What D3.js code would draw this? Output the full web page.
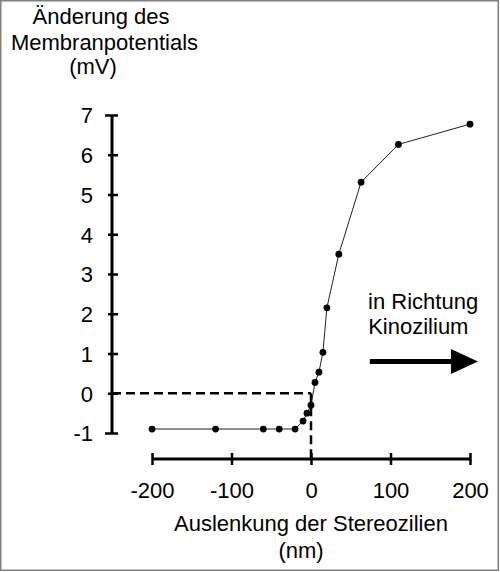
<!DOCTYPE html>
<html>
<head>
<meta charset="utf-8">
<script src="https://cdn.jsdelivr.net/npm/d3@7"></script>
<style>
  html, body { margin: 0; padding: 0; background: #fff; }
  svg { display: block; }
  text { font-family: "Liberation Sans", Arial, sans-serif; font-size: 22px; fill: #000; }
</style>
</head>
<body>
<script>
// ---- data ----
const deflection = [-200, -120, -60, -40, -20, -10, -5, 0, 5, 10, 15, 20, 35, 63, 110, 200];
const potential  = [-0.9, -0.9, -0.9, -0.9, -0.9, -0.7, -0.5, -0.3, 0.27, 0.53, 1.03, 2.15, 3.5, 5.31, 6.26, 6.77];
const xTicks = [-200, -100, 0, 100, 200];
const yTicks = [-1, 0, 1, 2, 3, 4, 5, 6, 7];
const yTitle = ["Änderung des", "Membranpotentials", "(mV)"];
const xTitle = ["Auslenkung der Stereozilien", "(nm)"];
const arrowText = ["in Richtung", "Kinozilium"];

const W = 500, H = 572;
const svg = d3.select("body").append("svg").attr("width", W).attr("height", H);

// frame
svg.append("rect").attr("x", 0.75).attr("y", 0.75).attr("width", 497.5).attr("height", 569.5)
  .attr("fill", "none").attr("stroke", "#808080").attr("stroke-width", 1.5);

const x = d3.scaleLinear().domain([-200, 200]).range([152, 470]);
const y = d3.scaleLinear().domain([-1, 7]).range([433, 115]);
const axisX = 112, axisY = 459;
const fmt = d => String(d);

// y axis
const gy = svg.append("g").attr("transform", `translate(${axisX},0)`)
  .call(d3.axisLeft(y).tickValues(yTicks).tickFormat(fmt).tickSize(0).tickPadding(19));
gy.select(".domain").remove();
gy.append("line").attr("y1", y(-1)).attr("y2", y(7)).attr("stroke", "#000").attr("stroke-width", 3);
gy.selectAll(".tick line").attr("x1", d => (d === -1 || d === 7) ? -7 : -4).attr("x2", 6)
  .attr("stroke", "#000").attr("stroke-width", 2.5);
gy.selectAll(".tick text").attr("dy", "0.36em").style("font-size", "22px")
  .style("font-family", '"Liberation Sans", Arial, sans-serif');

// x axis
const gx = svg.append("g").attr("transform", `translate(0,${axisY})`)
  .call(d3.axisBottom(x).tickValues(xTicks).tickFormat(fmt).tickSize(0).tickPadding(0));
gx.select(".domain").remove();
gx.append("line").attr("x1", x(-200)).attr("x2", x(200)).attr("stroke", "#000").attr("stroke-width", 3);
gx.selectAll(".tick line").attr("y1", -6).attr("y2", 6).attr("stroke", "#000").attr("stroke-width", 2.5);
gx.selectAll(".tick text").attr("y", 39).attr("dy", 0).style("font-size", "22px")
  .style("font-family", '"Liberation Sans", Arial, sans-serif');

// dashed reference lines
svg.append("line").attr("x1", axisX).attr("x2", x(0)).attr("y1", y(0)).attr("y2", y(0))
  .attr("stroke", "#000").attr("stroke-width", 2.5).attr("stroke-dasharray", "9,5");
svg.append("line").attr("x1", x(0)).attr("x2", x(0)).attr("y1", y(0)).attr("y2", axisY)
  .attr("stroke", "#000").attr("stroke-width", 2.5).attr("stroke-dasharray", "9,5");

// data line + points
const pts = deflection.map((d, i) => [d, potential[i]]);
svg.append("path").datum(pts)
  .attr("d", d3.line().x(d => x(d[0])).y(d => y(d[1])))
  .attr("fill", "none").attr("stroke", "#222").attr("stroke-width", 1);
svg.append("g").selectAll("circle").data(pts).join("circle")
  .attr("cx", d => x(d[0])).attr("cy", d => y(d[1])).attr("r", 3.4).attr("fill", "#000");

// y title
const yt = svg.append("g");
const ytPos = [[101, 24], [104.5, 49.5], [93, 74]];
yTitle.forEach((t, i) => yt.append("text").attr("x", ytPos[i][0]).attr("y", ytPos[i][1])
  .attr("text-anchor", "middle").text(t));

// x title
const xtPos = [[311, 531], [301, 558]];
xTitle.forEach((t, i) => svg.append("text").attr("x", xtPos[i][0]).attr("y", xtPos[i][1])
  .attr("text-anchor", "middle").text(t));

// annotation: arrow in data space
const aY = 0.8, aX0 = 74, aXhead = 176, aXend = 210;
svg.append("line").attr("x1", x(aX0)).attr("x2", x(aXhead) + 2).attr("y1", y(aY)).attr("y2", y(aY))
  .attr("stroke", "#000").attr("stroke-width", 5);
svg.append("path")
  .attr("d", `M${x(aXhead)},${y(aY) - 12.5}L${x(aXend)},${y(aY)}L${x(aXhead)},${y(aY) + 12.5}Z`)
  .attr("fill", "#000");
const atPos = [[141, 2.13], [135, 1.48]];
arrowText.forEach((t, i) => svg.append("text").attr("x", x(atPos[i][0])).attr("y", y(atPos[i][1]))
  .attr("text-anchor", "middle").text(t));
</script>
</body>
</html>
